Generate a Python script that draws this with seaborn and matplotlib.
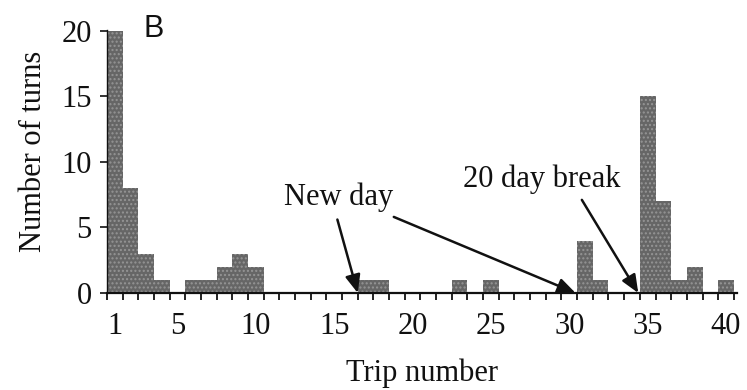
import numpy as np
import pandas as pd
import matplotlib
matplotlib.use("Agg")
import matplotlib.pyplot as plt
import seaborn as sns

# ---- data ----
trips = list(range(1, 41))
turns = [20, 8, 3, 1, 0, 1, 1, 2, 3, 2,
         0, 0, 0, 0, 0, 0, 1, 1, 0, 0,
         0, 0, 1, 0, 1, 0, 0, 0, 0, 0,
         4, 1, 0, 0, 15, 7, 1, 2, 0, 1]
xtick_labels = [1, 5, 10, 15, 20, 25, 30, 35, 40]
yticks = [0, 5, 10, 15, 20]

# annotations: (tip x, tip y, start x, start y)
new_day_arrows = [(16.5, 0.0, 15.2, 5.6), (30.4, 0.0, 18.8, 5.8)]
break_arrow = (34.4, 0.0, 30.8, 7.1)

df = pd.DataFrame({"trip": trips, "turns": turns})

sns.set_theme(style="white")
plt.rcParams["font.family"] = ["Liberation Serif", "DejaVu Serif"]

fig = plt.figure(figsize=(7.47, 3.90), dpi=100)
ax = fig.add_axes([107 / 747, 1 - 293 / 390, 630 / 747, 263 / 390])

sns.histplot(data=df, x="trip", weights="turns", discrete=True, ax=ax,
             color="#666666", alpha=1.0, linewidth=0, edgecolor="none")
for p in ax.patches:
    p.set_hatch("....")
    p.set_edgecolor("#959595")
    p.set_linewidth(0)

ax.set_xlim(0.5, 40.7)
ax.set_ylim(0, 20.05)

ax.set_xticks(xtick_labels)
ax.set_xticklabels([str(v) for v in xtick_labels])
ax.set_xticks(np.arange(0.5, 41, 1.0), minor=True)
ax.tick_params(axis="x", which="major", length=0, pad=14, labelsize=22, colors="#111111")
ax.tick_params(axis="x", which="minor", direction="out", length=5, width=1.3,
               color="#111111", bottom=True)
ax.set_yticks(yticks)
ax.tick_params(axis="y", which="major", direction="out", length=5, width=1.2,
               pad=6, labelsize=22, colors="#111111", left=True)

for s in ["top", "right"]:
    ax.spines[s].set_visible(False)
ax.spines["bottom"].set_linewidth(1.6)
ax.spines["bottom"].set_color("#111111")
ax.spines["left"].set_linewidth(1.0)
ax.spines["left"].set_color("#111111")

ax.set_xlabel("Trip number", fontsize=22, color="#111111", labelpad=12)
ax.set_ylabel("Number of turns", fontsize=22, color="#111111")
ax.yaxis.set_label_coords(-0.094, 0.54)

arrow_kw = dict(arrowstyle="-|>,head_length=0.9,head_width=0.38",
                color="#111111", lw=1.8, shrinkA=0, shrinkB=0)
for tx, ty, sx, sy in new_day_arrows:
    ax.annotate("", xy=(tx, ty), xytext=(sx, sy), arrowprops=arrow_kw,
                annotation_clip=False)
tx, ty, sx, sy = break_arrow
ax.annotate("", xy=(tx, ty), xytext=(sx, sy), arrowprops=arrow_kw,
            annotation_clip=False)

ax.text(15.3, 6.7, "New day", ha="center", va="baseline", fontsize=22, color="#111111")
ax.text(28.25, 8.1, "20 day break", ha="center", va="baseline", fontsize=22, color="#111111")

fig.text(143 / 747, 1 - 37 / 390, "B", ha="left", va="baseline", fontsize=22,
         family=["Liberation Sans", "DejaVu Sans"], color="#111111")

fig.savefig("out.png", dpi=100)
